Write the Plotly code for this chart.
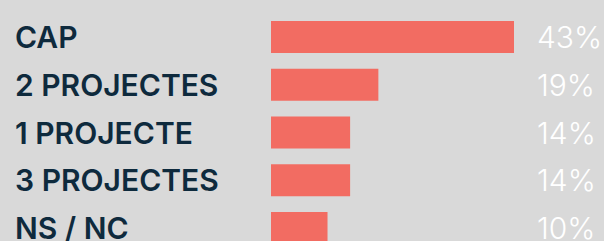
import plotly.graph_objects as go

categories = ["CAP", "2 PROJECTES", "1 PROJECTE", "3 PROJECTES", "NS / NC"]
values = [43, 19, 14, 14, 10]
value_labels = ["43%", "19%", "14%", "14%", "10%"]

BG = "#d9d9d9"
BAR = "#f26c62"
NAVY = "#0e2a3d"

fig = go.Figure()
fig.add_trace(go.Bar(
    x=values, y=list(range(len(categories))), orientation="h",
    marker=dict(color=BAR, line=dict(width=0)), width=0.67,
    hoverinfo="skip",
))

annotations = []
for i, (c, lab) in enumerate(zip(categories, value_labels)):
    annotations.append(dict(
        x=13 / 604, xref="paper", y=i, yref="y", text=c, showarrow=False,
        xanchor="left", yanchor="middle",
        font=dict(family="Inter", size=30, color=NAVY, weight=600),
    ))
    annotations.append(dict(
        x=535 / 604, xref="paper", y=i, yref="y", text=lab, showarrow=False,
        xanchor="left", yanchor="middle",
        font=dict(family="Inter", size=30, color="#ffffff", weight=300),
    ))

fig.update_layout(
    width=604, height=241,
    margin=dict(l=0, r=0, t=0, b=0),
    paper_bgcolor=BG, plot_bgcolor=BG,
    showlegend=False,
    xaxis=dict(domain=[271 / 604, 514 / 604], range=[0, 43], visible=False, fixedrange=True),
    yaxis=dict(range=[4.272, -0.775], visible=False, fixedrange=True),
    annotations=annotations,
)

fig.write_html(
    "out.html",
    config={"displayModeBar": False},
    post_script="document.body.style.margin='0';document.body.style.background='#d9d9d9';",
)
